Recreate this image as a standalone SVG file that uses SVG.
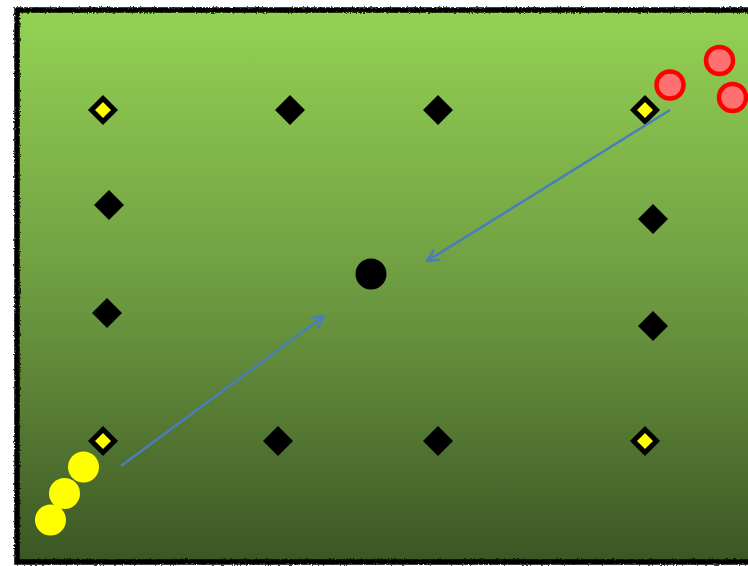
<svg xmlns="http://www.w3.org/2000/svg" width="748" height="566" viewBox="0 0 748 566">
  <defs>
    <linearGradient id="field" x1="0" y1="0" x2="0" y2="1">
      <stop offset="0" stop-color="#94D254"/>
      <stop offset="0.5" stop-color="#6E9C41"/>
      <stop offset="1" stop-color="#3C5624"/>
    </linearGradient>
    <filter id="rough" x="-5%" y="-5%" width="110%" height="110%">
      <feTurbulence type="fractalNoise" baseFrequency="0.6" numOctaves="2" seed="3" result="n"/>
      <feDisplacementMap in="SourceGraphic" in2="n" scale="3" xChannelSelector="R" yChannelSelector="G"/>
    </filter>
    <marker id="arrow" viewBox="0 0 14 14" refX="13" refY="7" markerWidth="14" markerHeight="14" markerUnits="userSpaceOnUse" orient="auto">
      <path d="M1,1 L13,7 L1,13" fill="none" stroke="#4A7EBB" stroke-width="2.5"/>
    </marker>
    <style>
      .blk { fill: #000; }
      .cone { fill: #FFFF00; stroke: #000; stroke-width: 5; }
      .red { fill: #FF7070; stroke: #FF0000; stroke-width: 4.5; }
      .yel { fill: #FFFF00; }
      .conn { stroke: #4A7EBB; stroke-width: 2.5; fill: none; marker-end: url(#arrow); }
    </style>
  </defs>

  <rect x="0" y="0" width="748" height="566" fill="#FFFFFF"/>
  <rect x="17" y="10" width="740" height="552" fill="url(#field)"/>
  <rect x="17" y="10" width="740" height="552" fill="none" stroke="#000" stroke-width="5.5" filter="url(#rough)"/>

  <g id="cone-tl"><path class="cone" d="M103,98.5 L114.5,110 L103,121.5 L91.5,110 Z"/></g>
  <g id="cone-tr"><path class="cone" d="M645,98.5 L656.5,110 L645,121.5 L633.5,110 Z"/></g>
  <g id="cone-bl"><path class="cone" d="M103,429.5 L114.5,441 L103,452.5 L91.5,441 Z"/></g>
  <g id="cone-br"><path class="cone" d="M645,429.5 L656.5,441 L645,452.5 L633.5,441 Z"/></g>

  <g id="d1"><path class="blk" d="M290,95 L305,110 L290,125 L275,110 Z"/></g>
  <g id="d2"><path class="blk" d="M438,95 L453,110 L438,125 L423,110 Z"/></g>
  <g id="d3"><path class="blk" d="M109,190 L124,205 L109,220 L94,205 Z"/></g>
  <g id="d4"><path class="blk" d="M107,298 L122,313 L107,328 L92,313 Z"/></g>
  <g id="d5"><path class="blk" d="M653,204 L668,219 L653,234 L638,219 Z"/></g>
  <g id="d6"><path class="blk" d="M653,311 L668,326 L653,341 L638,326 Z"/></g>
  <g id="d7"><path class="blk" d="M278,426 L293,441 L278,456 L263,441 Z"/></g>
  <g id="d8"><path class="blk" d="M438,426 L453,441 L438,456 L423,441 Z"/></g>

  <g id="ball"><circle cx="371" cy="274" r="15.5" fill="#000"/></g>

  <g id="red1"><circle class="red" cx="670" cy="85" r="13.5"/></g>
  <g id="red2"><circle class="red" cx="719.5" cy="60.5" r="13.5"/></g>
  <g id="red3"><circle class="red" cx="732.5" cy="97.5" r="13.5"/></g>

  <g id="yel1"><circle class="yel" cx="83.5" cy="467" r="15.5"/></g>
  <g id="yel2"><circle class="yel" cx="64.5" cy="493.5" r="15.5"/></g>
  <g id="yel3"><circle class="yel" cx="50.5" cy="520" r="15.5"/></g>

  <g id="connectors">
    <line class="conn" x1="121" y1="466" x2="324" y2="316"/>
    <line class="conn" x1="670" y1="110" x2="427" y2="261"/>
  </g>
</svg>
